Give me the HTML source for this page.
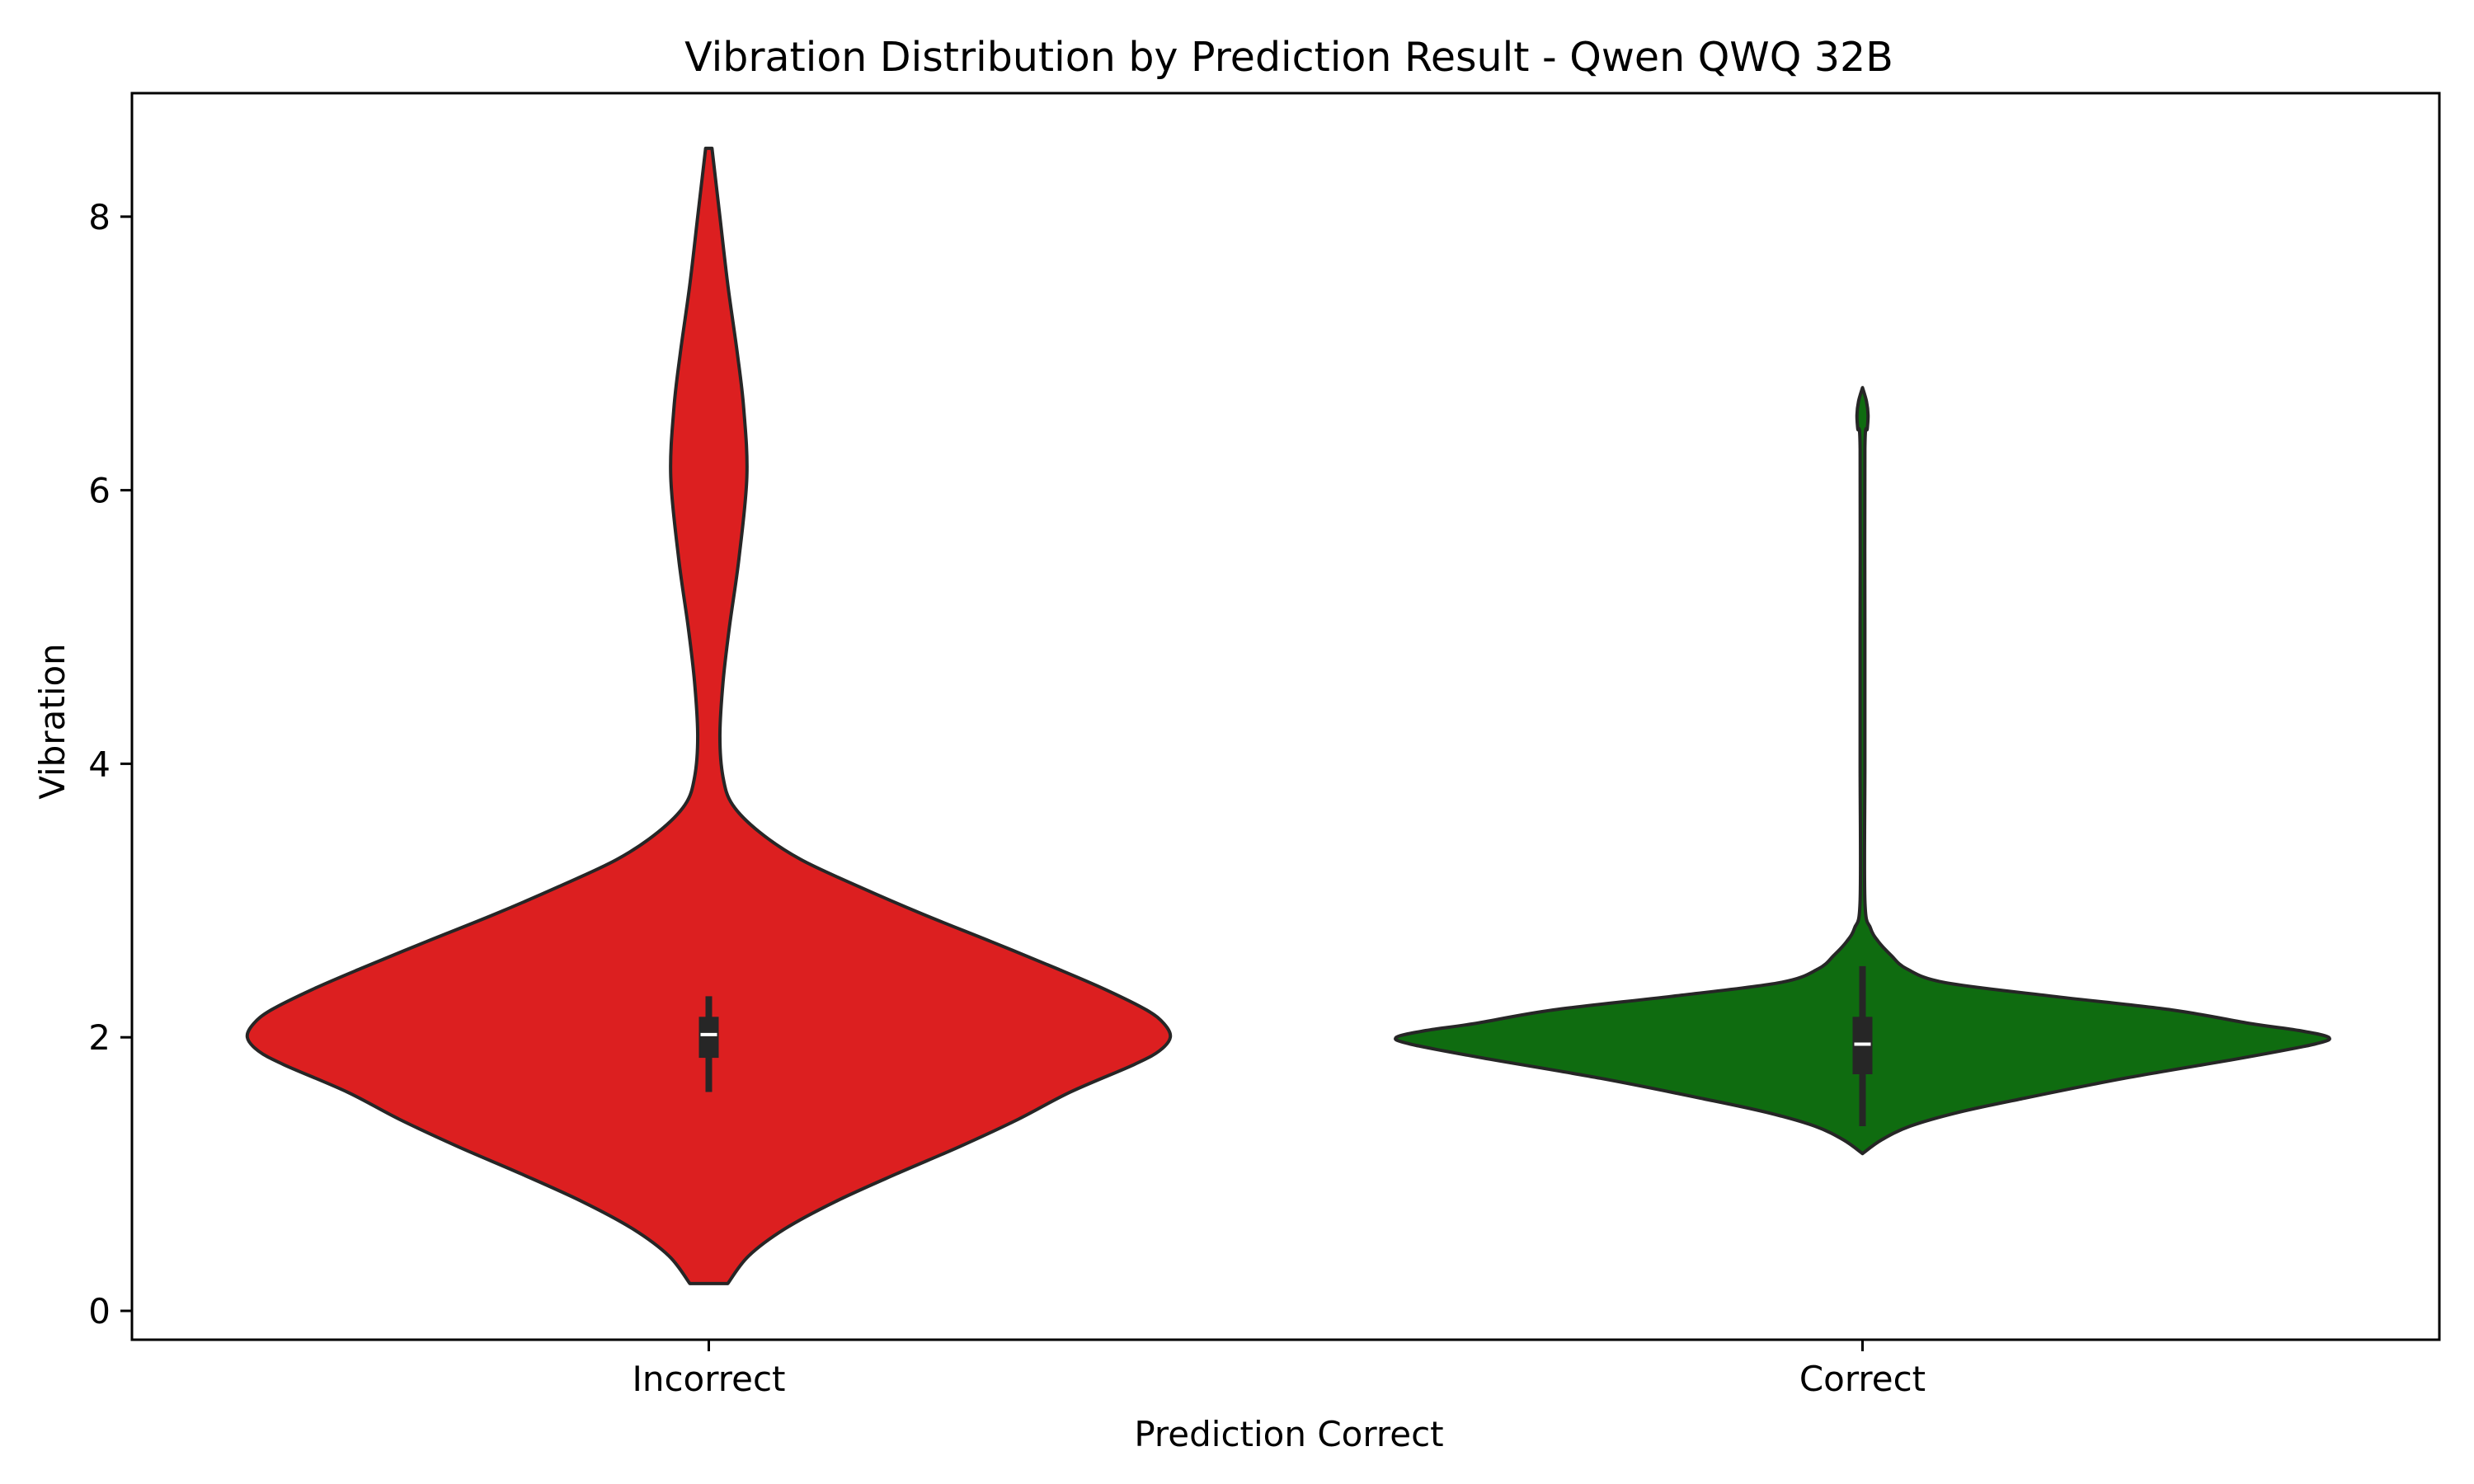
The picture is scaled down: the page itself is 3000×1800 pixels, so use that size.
<!DOCTYPE html>
<html><head><meta charset="utf-8"><style>
html,body{margin:0;padding:0;background:#fff;}
svg{display:block;font-family:"DejaVu Sans","Liberation Sans",sans-serif;}
</style></head><body>
<svg id="chart" width="3000" height="1800" viewBox="0 0 3000 1800" xmlns="http://www.w3.org/2000/svg">
<rect x="0" y="0" width="3000" height="1800" fill="#fff"/>
<text x="1563" y="86" font-size="49" text-anchor="middle" fill="#000">Vibration Distribution by Prediction Result - Qwen QWQ 32B</text>
<text x="1563" y="1754" font-size="42" text-anchor="middle" fill="#000">Prediction Correct</text>
<text transform="translate(78,875) rotate(-90)" font-size="42" text-anchor="middle" fill="#000">Vibration</text>
<g id="plot"></g>
</svg>
<script>
const categories = ["Incorrect", "Correct"];
const colors = ["#dc1f20", "#0f6c10"];
const yTicks = [0, 2, 4, 6, 8];
// violin profiles: value levels and half-width (density, in relative units)
const incorrectLevels = [0.2, 0.4, 0.6, 0.8, 1.0, 1.2, 1.4, 1.6, 1.8, 1.9, 2.0, 2.1, 2.2, 2.35, 2.5, 2.7, 2.9, 3.1, 3.3, 3.5, 3.7, 3.9, 4.2, 4.6, 5.0, 5.5, 6.1, 6.6, 7.0, 7.5, 8.0, 8.5];
const incorrectWidth  = [12, 25, 48, 80, 118, 158, 195, 228, 268, 284, 291, 287, 276, 250, 220, 178, 135, 95, 58, 32, 15, 9, 7, 9, 13, 19, 24, 22, 18, 12, 7, 2];
const correctLevels = [1.15, 1.25, 1.35, 1.45, 1.55, 1.7, 1.85, 1.95, 2.0, 2.05, 2.1, 2.2, 2.3, 2.4, 2.5, 2.6, 2.7, 2.8, 3.0, 4.0, 5.0, 6.3, 6.45, 6.55, 6.65, 6.75];
const correctWidth  = [0, 12, 30, 60, 100, 165, 240, 285, 294, 275, 245, 195, 120, 52, 28, 18, 10, 5, 1.5, 1.5, 1.5, 1.5, 3, 3.5, 2.5, 0];
// box stats: [whiskerLow, q1, median, q3, whiskerHigh]
const incorrectBox = [1.6, 1.85, 2.02, 2.15, 2.3];
const correctBox = [1.35, 1.73, 1.95, 2.15, 2.52];

const L=160,R=2958,T=113,B=1625;
const y0=1590, perUnit=165.9;
function yScale(v){return y0-v*perUnit;}
function xScale(i){return L+(R-L)*(i+0.5)/categories.length;}
function wScale(w){return w*1.923;}
const NS="http://www.w3.org/2000/svg";
const plot=document.getElementById('plot');
function mk(tag,attrs,parent){const e=document.createElementNS(NS,tag);for(const k in attrs)e.setAttribute(k,attrs[k]);(parent||plot).appendChild(e);return e;}

function smooth(pts){
  let d="M"+pts[0][0]+","+pts[0][1];
  for(let i=0;i<pts.length-1;i++){
    const p0=pts[Math.max(0,i-1)],p1=pts[i],p2=pts[i+1],p3=pts[Math.min(pts.length-1,i+2)];
    const c1=[p1[0]+(p2[0]-p0[0])/6,p1[1]+(p2[1]-p0[1])/6];
    const c2=[p2[0]-(p3[0]-p1[0])/6,p2[1]-(p3[1]-p1[1])/6];
    d+=" C"+c1[0]+","+c1[1]+" "+c2[0]+","+c2[1]+" "+p2[0]+","+p2[1];
  }
  return d;
}
const levels=[incorrectLevels,correctLevels], widths=[incorrectWidth,correctWidth], boxes=[incorrectBox,correctBox];
for(let c=0;c<categories.length;c++){
  const cx=xScale(c);
  const right=levels[c].map((v,i)=>[cx+wScale(widths[c][i]),yScale(v)]);
  const left=levels[c].map((v,i)=>[cx-wScale(widths[c][i]),yScale(v)]).reverse();
  let d=smooth(right)+" L"+left[0][0]+","+left[0][1]+smooth(left).replace(/^M[^C]*/," ")+" Z";
  const v=mk('path',{d:d,fill:colors[c],stroke:'#262626','stroke-width':4,'stroke-linejoin':'round'});
  
  
  const b=boxes[c];
  const wh=mk('line',{x1:cx,x2:cx,y1:yScale(b[0]),y2:yScale(b[4]),stroke:'#262626','stroke-width':8});
  
  
  const bx=mk('rect',{x:cx-12,y:yScale(b[3]),width:24,height:yScale(b[1])-yScale(b[3]),fill:'#262626'});
  
  
  const md=mk('line',{x1:cx-10,x2:cx+10,y1:yScale(b[2]),y2:yScale(b[2]),stroke:'#fff','stroke-width':4});
  
  
  const t=mk('line',{x1:cx,x2:cx,y1:B,y2:B+14,stroke:'#000','stroke-width':3});
  
  
  const tl=mk('text',{x:cx,y:B+62,'font-size':42,'text-anchor':'middle',fill:'#000'});
  tl.textContent=categories[c];
  
  
}
for(const v of yTicks){
  const y=yScale(v);
  const t=mk('line',{x1:L-14,x2:L,y1:y,y2:y,stroke:'#000','stroke-width':3});
  
  
  const tl=mk('text',{x:L-26,y:y+15,'font-size':42,'text-anchor':'end',fill:'#000'});
  tl.textContent=v;
  
  
}
const frame=mk('rect',{x:L,y:T,width:R-L,height:B-T,fill:'none',stroke:'#000','stroke-width':3});


</script>
</body></html>
